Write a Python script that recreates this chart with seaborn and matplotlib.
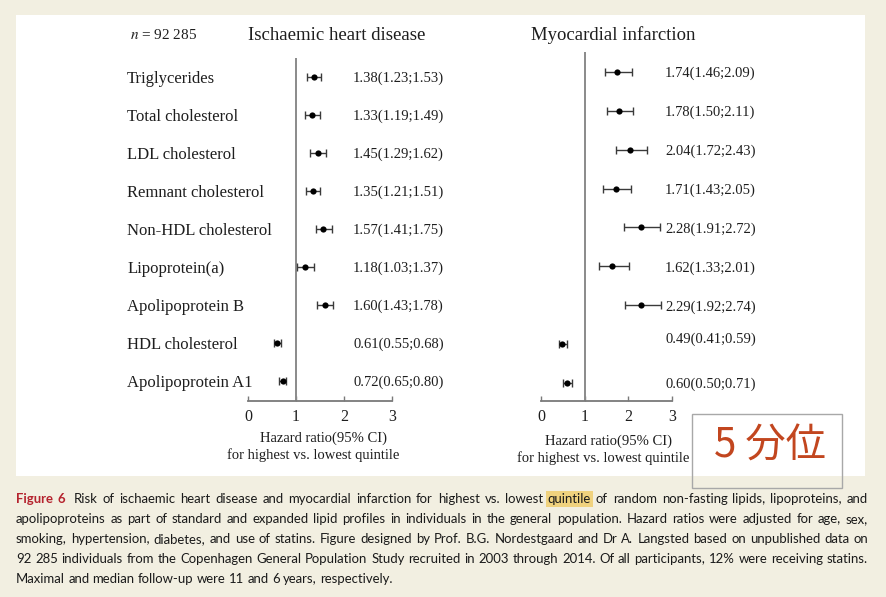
import numpy as np
import pandas as pd
import matplotlib
matplotlib.use('Agg')
import matplotlib.pyplot as plt
from matplotlib.patches import Rectangle
import seaborn as sns

#%% data
markers = ['Triglycerides', 'Total cholesterol', 'LDL cholesterol', 'Remnant cholesterol',
           'Non-HDL cholesterol', 'Lipoprotein(a)', 'Apolipoprotein B', 'HDL cholesterol',
           'Apolipoprotein A1']
ihd_hr = [1.38, 1.33, 1.45, 1.35, 1.57, 1.18, 1.60, 0.61, 0.72]
ihd_lo = [1.23, 1.19, 1.29, 1.21, 1.41, 1.03, 1.43, 0.55, 0.65]
ihd_hi = [1.53, 1.49, 1.62, 1.51, 1.75, 1.37, 1.78, 0.68, 0.80]
mi_hr = [1.74, 1.78, 2.04, 1.71, 2.28, 1.62, 2.29, 0.49, 0.60]
mi_lo = [1.46, 1.50, 1.72, 1.43, 1.91, 1.33, 1.92, 0.41, 0.50]
mi_hi = [2.09, 2.11, 2.43, 2.05, 2.72, 2.01, 2.74, 0.59, 0.71]
xticks = [0, 1, 2, 3]
titles = ['Ischaemic heart disease', 'Myocardial infarction']
xlabel_lines = ['Hazard ratio(95% CI)', 'for highest vs. lowest quintile']
caption = [
    'Figure 6  Risk of ischaemic heart disease and myocardial infarction for highest vs. lowest quintile of random non-fasting lipids, lipoproteins, and',
    'apolipoproteins as part of standard and expanded lipid profiles in individuals in the general population. Hazard ratios were adjusted for age, sex,',
    'smoking, hypertension, diabetes, and use of statins. Figure designed by Prof. B.G. Nordestgaard and Dr A. Langsted based on unpublished data on',
    '92 285 individuals from the Copenhagen General Population Study recruited in 2003 through 2014. Of all participants, 12% were receiving statins.',
    'Maximal and median follow-up were 11 and 6 years, respectively.',
]

#%% style
sns.set_style('white')
plt.rcParams['font.family'] = ['Liberation Serif', 'DejaVu Serif']
plt.rcParams['mathtext.fontset'] = 'stix'
W, H = 887, 597
beige = '#f2efe1'
txt = '#1e1e1e'


def fx(x):
    return x / W


def fy(y):
    return 1 - y / H


fig = plt.figure(figsize=(W / 100, H / 100), dpi=100, facecolor=beige)
fig.patches.append(Rectangle((fx(16), fy(476)), fx(865) - fx(16), fy(15) - fy(476),
                             transform=fig.transFigure, fc='white', ec='none', zorder=-5))


def forest(ax, hr, lo, hi, ylim, val_x, val_dy):
    df = pd.DataFrame({'marker': markers, 'hr': hr, 'lo': lo, 'hi': hi,
                       'row': np.arange(len(markers))})
    ax.set_facecolor('none')
    ax.axvline(1, color='#8a8a8a', lw=1.4, zorder=1)
    ax.errorbar(df['hr'], df['row'], xerr=[df['hr'] - df['lo'], df['hi'] - df['hr']],
                fmt='none', ecolor='#3a3a3a', elinewidth=1, capsize=2.6, capthick=1, zorder=2)
    sns.scatterplot(data=df, x='hr', y='row', ax=ax, color='black', s=20,
                    edgecolor='black', linewidth=0, zorder=3, legend=False)
    for r in df.itertuples():
        ax.text(val_x, r.row + val_dy[r.row], f'{r.hr:.2f}({r.lo:.2f};{r.hi:.2f})',
                ha='left', va='center_baseline', fontsize=10.5, color=txt)
    ax.set_xlim(0, 3)
    ax.set_ylim(*ylim)
    ax.set_xticks(xticks)
    ax.set_yticks([])
    ax.set_xlabel('')
    ax.set_ylabel('')
    for s in ['top', 'right', 'left']:
        ax.spines[s].set_visible(False)
    ax.spines['bottom'].set_bounds(0, 3)
    ax.spines['bottom'].set_color('#7a7a7a')
    ax.spines['bottom'].set_linewidth(1.3)
    ax.tick_params(axis='x', direction='in', length=3.5, width=1, color='#7a7a7a',
                   pad=6, labelsize=11.5, labelcolor=txt, bottom=True)
    return df


# left panel: ischaemic heart disease
ax1 = fig.add_axes([fx(248), fy(401), fx(392) - fx(248), fy(58) - fy(401)])
df1 = forest(ax1, ihd_hr, ihd_lo, ihd_hi, (8.53, -0.5), 2.19, [0] * 9)
for r in df1.itertuples():
    ax1.text(-2.52, r.row, r.marker, ha='left', va='center_baseline', fontsize=12, color=txt)

# right panel: myocardial infarction
ax2 = fig.add_axes([fx(541), fy(401), fx(672) - fx(541), fy(52) - fy(401)])
forest(ax2, mi_hr, mi_lo, mi_hi, (8.46, -0.51), 2.84, [0, 0, 0, 0, 0, 0, 0, -0.17, 0])

# titles and axis labels
fig.text(fx(130), fy(35), '$n$ = 92 285', ha='left', va='center', fontsize=11, color=txt)
fig.text(fx(337), fy(35), titles[0], ha='center', va='center', fontsize=13.5, color=txt)
fig.text(fx(613), fy(35), titles[1], ha='center', va='center', fontsize=13.5, color=txt)
fig.text(fx(324), fy(438), xlabel_lines[0], ha='center', va='center', fontsize=10.5, color=txt)
fig.text(fx(313), fy(455), xlabel_lines[1], ha='center', va='center', fontsize=10.5, color=txt)
fig.text(fx(609), fy(441), xlabel_lines[0], ha='center', va='center', fontsize=10.5, color=txt)
fig.text(fx(603), fy(458), xlabel_lines[1], ha='center', va='center', fontsize=10.5, color=txt)

# annotation box
fig.patches.append(Rectangle((fx(692), fy(488)), fx(842) - fx(692), fy(414) - fy(488),
                             transform=fig.transFigure, fc='none', ec='#a8a8a8', lw=1, zorder=5))
fig.text(fx(770), fy(446), '5 分位', ha='center', va='center', fontsize=29,
         color='#c2461f', family=['Noto Sans CJK JP', 'DejaVu Sans'], zorder=6)

#%% caption, justified word by word
renderer = fig.canvas.get_renderer()
cap_font = ['Lato', 'DejaVu Sans']


def word_style(line_i, word_i, word):
    st = dict(color='#1a1a1a', family=cap_font)
    if line_i == 0 and word_i < 2:
        st.update(color='#b5232e', weight='bold')
    if line_i == 0 and word == 'quintile':
        st.update(bbox=dict(boxstyle='square,pad=0.12', fc='#f0d27e', ec='none'))
    return st


def measure(s, size, **kw):
    kw.pop('bbox', None)
    t = fig.text(0, 0, s, fontsize=size, **kw)
    w = t.get_window_extent(renderer).width
    t.remove()
    return w


base = 10
space_w = measure('a a', base, family=cap_font) - measure('aa', base, family=cap_font)
nat = []
for i, line in enumerate(caption[:4]):
    words = line.split()
    ws = [measure(w, base, **word_style(i, j, w)) for j, w in enumerate(words)]
    nat.append(sum(ws) + space_w * (len(words) - 1) + (space_w if i == 0 else 0))
size = base * 846 / max(nat)

x0, x1 = 16, 868
for i, line in enumerate(caption):
    words = line.split()
    styles = [word_style(i, j, w) for j, w in enumerate(words)]
    ws = [measure(w, size, **st) for w, st in zip(words, styles)]
    gaps = len(words) - 1
    sp = space_w * size / base
    extra = sp if i == 0 else 0
    if i < len(caption) - 1:
        sp = (x1 - x0 - sum(ws) - extra) / gaps
    x = x0
    yb = 503 + 20 * i
    for j, (w, st, wd) in enumerate(zip(words, styles, ws)):
        fig.text(fx(x), fy(yb), w, fontsize=size, ha='left', va='baseline', **st)
        x += wd + sp
        if i == 0 and j == 1:
            x += extra

fig.savefig('out.png', dpi=100, facecolor=beige)
